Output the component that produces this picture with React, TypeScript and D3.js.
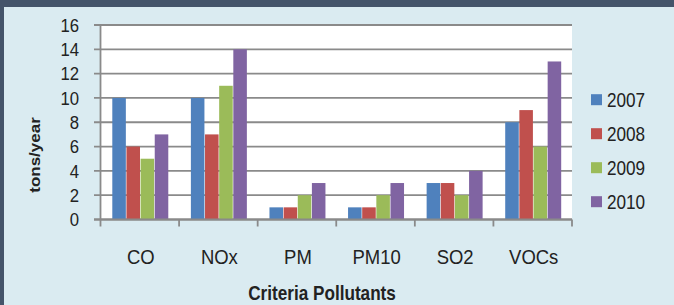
import React, { useEffect, useRef } from "react";
import * as d3 from "d3";

const categories = ["CO", "NOx", "PM", "PM10", "SO2", "VOCs"];
const years = ["2007", "2008", "2009", "2010"];
const v2007 = [10, 10, 1, 1, 3, 8];
const v2008 = [6, 7, 1, 1, 3, 9];
const v2009 = [5, 11, 2, 2, 2, 6];
const v2010 = [7, 14, 3, 3, 4, 13];
const yTicks = [0, 2, 4, 6, 8, 10, 12, 14, 16];
const colors = ["#4F81BD", "#C0504D", "#9BBB59", "#8064A2"];

const W = 674;
const H = 305;
const SQ = 0.88; // text looks horizontally squeezed in the source

const App = () => {
  const svgRef = useRef<SVGSVGElement>(null);

  useEffect(() => {
    const svg = d3.select(svgRef.current);
    svg.selectAll("*").remove();

    const series = [v2007, v2008, v2009, v2010];
    const margin = { top: 25, right: 102, bottom: 85.5, left: 100.5 };

    // background + slide frame
    svg.append("rect").attr("width", W).attr("height", H).attr("fill", "#44546A");
    svg.append("rect").attr("x", 4).attr("y", 7).attr("width", W - 4).attr("height", H - 7).attr("fill", "#DAEBF1");

    const x0 = d3
      .scaleBand()
      .domain(categories)
      .range([margin.left, W - margin.right]);
    const x1 = d3
      .scaleBand()
      .domain(years)
      .range([11.5, x0.bandwidth() - 10.5]);
    const y = d3
      .scaleLinear()
      .domain([0, 16])
      .range([H - margin.bottom, margin.top]);

    // plot area
    svg
      .append("rect")
      .attr("x", margin.left)
      .attr("y", margin.top)
      .attr("width", W - margin.right - margin.left)
      .attr("height", y(0) - margin.top)
      .attr("fill", "#fff");

    // gridlines + y ticks
    svg
      .append("g")
      .selectAll("line")
      .data(yTicks)
      .enter()
      .append("line")
      .attr("x1", margin.left - 6.5)
      .attr("x2", W - margin.right)
      .attr("y1", (d) => y(d))
      .attr("y2", (d) => y(d))
      .attr("stroke", "#8A8A8A")
      .attr("stroke-width", 1.8);

    svg
      .append("g")
      .selectAll("text")
      .data(yTicks)
      .enter()
      .append("text")
      .attr("transform", (d) => `translate(79,${y(d) + 6.8}) scale(${SQ},1)`)
      .attr("text-anchor", "end")
      .attr("font-family", "Liberation Sans, Arial, sans-serif")
      .attr("font-size", 19)
      .attr("fill", "#222")
      .text((d) => d);

    // bars
    const groups = svg
      .append("g")
      .selectAll("g")
      .data(categories)
      .enter()
      .append("g")
      .attr("transform", (d) => `translate(${x0(d)},0)`);

    groups
      .selectAll("rect")
      .data((d, i) => years.map((yr, j) => ({ yr, v: series[j][i], j })))
      .enter()
      .append("rect")
      .attr("x", (d) => x1(d.yr)! + 0.3)
      .attr("y", (d) => y(d.v))
      .attr("width", x1.bandwidth() - 0.6)
      .attr("height", (d) => y(0) - y(d.v))
      .attr("fill", (d) => colors[d.j]);

    // axes lines
    svg
      .append("line")
      .attr("x1", margin.left)
      .attr("x2", margin.left)
      .attr("y1", margin.top)
      .attr("y2", y(0) + 7)
      .attr("stroke", "#8A8A8A")
      .attr("stroke-width", 1.8);
    svg
      .append("line")
      .attr("x1", margin.left - 6.5)
      .attr("x2", W - margin.right)
      .attr("y1", y(0))
      .attr("y2", y(0))
      .attr("stroke", "#8A8A8A")
      .attr("stroke-width", 1.8);
    svg
      .append("g")
      .selectAll("line")
      .data(categories)
      .enter()
      .append("line")
      .attr("x1", (d) => x0(d)! + x0.bandwidth())
      .attr("x2", (d) => x0(d)! + x0.bandwidth())
      .attr("y1", y(0))
      .attr("y2", y(0) + 7)
      .attr("stroke", "#8A8A8A")
      .attr("stroke-width", 1.8);

    // category labels
    svg
      .append("g")
      .selectAll("text")
      .data(categories)
      .enter()
      .append("text")
      .attr("transform", (d) => `translate(${x0(d)! + x0.bandwidth() / 2 + 1},263.5) scale(${SQ},1)`)
      .attr("text-anchor", "middle")
      .attr("font-family", "Liberation Sans, Arial, sans-serif")
      .attr("font-size", 21)
      .attr("fill", "#222")
      .text((d) => d);

    // axis titles
    svg
      .append("text")
      .attr("transform", `translate(322,300) scale(${SQ},1)`)
      .attr("text-anchor", "middle")
      .attr("font-family", "Liberation Sans, Arial, sans-serif")
      .attr("font-weight", "bold")
      .attr("font-size", 19.5)
      .attr("fill", "#222")
      .text("Criteria Pollutants");
    svg
      .append("text")
      .attr("transform", `translate(40,155) scale(${SQ},1) rotate(-90)`)
      .attr("text-anchor", "middle")
      .attr("font-family", "Liberation Sans, Arial, sans-serif")
      .attr("font-weight", "bold")
      .attr("font-size", 17)
      .attr("fill", "#222")
      .text("tons/year");

    // legend
    const legend = svg
      .append("g")
      .selectAll("g")
      .data(years)
      .enter()
      .append("g")
      .attr("transform", (d, i) => `translate(591,${99.7 + i * 34})`);
    legend
      .append("rect")
      .attr("x", 0)
      .attr("y", -5.5)
      .attr("width", 11)
      .attr("height", 11)
      .attr("fill", (d, i) => colors[i]);
    legend
      .append("text")
      .attr("transform", `translate(16,7) scale(${SQ},1)`)
      .attr("font-family", "Liberation Sans, Arial, sans-serif")
      .attr("font-size", 19.5)
      .attr("fill", "#222")
      .text((d) => d);
  }, []);

  return (
    <svg
      ref={svgRef}
      width={W}
      height={H}
      style={{ position: "absolute", left: 0, top: 0 }}
    ></svg>
  );
};

export default App;
